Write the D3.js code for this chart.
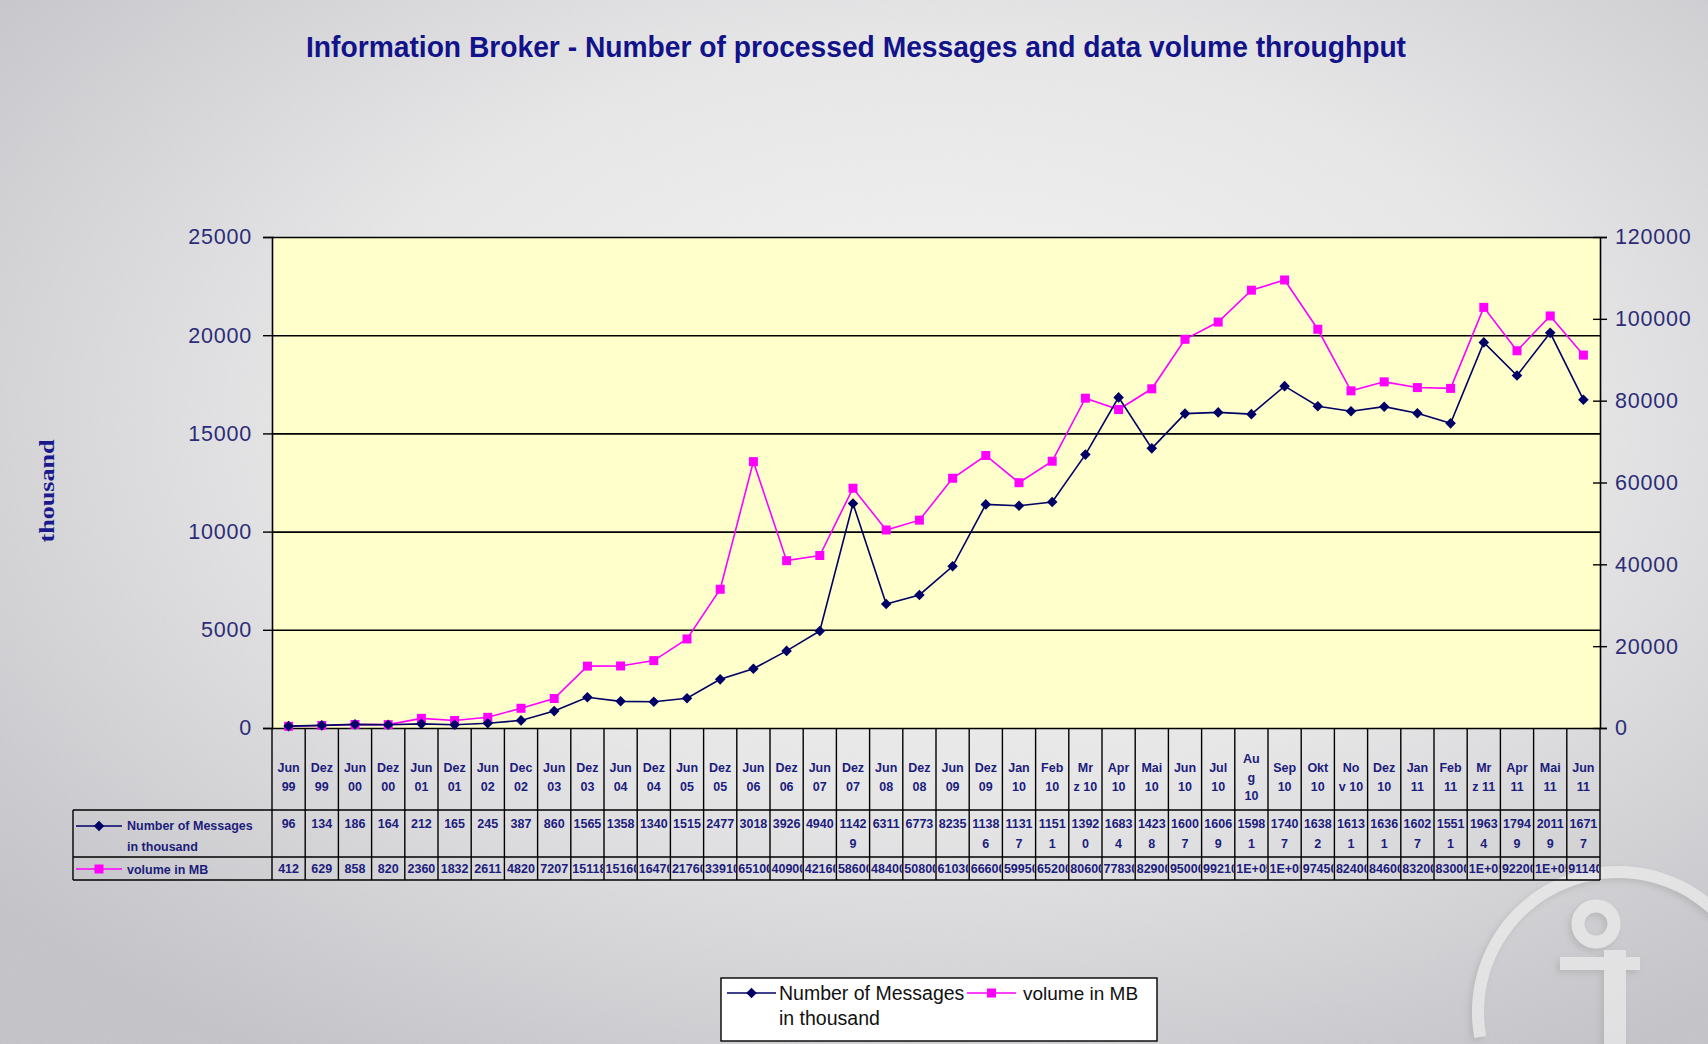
<!DOCTYPE html>
<html>
<head>
<meta charset="utf-8">
<script src="https://cdn.jsdelivr.net/npm/d3@7"></script>
<style>
  html, body { margin: 0; padding: 0; overflow: hidden; background: #e4e4e6; }
  text { font-family: Arial, 'Liberation Sans', sans-serif; }
</style>
</head>
<body>
<div class="graphique"></div>
<script>
var periods = ['Jun\n99', 'Dez\n99', 'Jun\n00', 'Dez\n00', 'Jun\n01', 'Dez\n01', 'Jun\n02', 'Dec\n02',
  'Jun\n03', 'Dez\n03', 'Jun\n04', 'Dez\n04', 'Jun\n05', 'Dez\n05', 'Jun\n06', 'Dez\n06',
  'Jun\n07', 'Dez\n07', 'Jun\n08', 'Dez\n08', 'Jun\n09', 'Dez\n09', 'Jan\n10', 'Feb\n10',
  'Mr\nz 10', 'Apr\n10', 'Mai\n10', 'Jun\n10', 'Jul\n10', 'Au\ng\n10', 'Sep\n10', 'Okt\n10',
  'No\nv 10', 'Dez\n10', 'Jan\n11', 'Feb\n11', 'Mr\nz 11', 'Apr\n11', 'Mai\n11', 'Jun\n11']

var messages = [96, 134, 186, 164, 212, 165, 245, 387, 860, 1565,
  1358, 1340, 1515, 2477, 3018, 3926, 4940, 11429, 6311, 6773,
  8235, 11386, 11317, 11511, 13920, 16834, 14238, 16007, 16069, 15981,
  17407, 16382, 16131, 16361, 16027, 15511, 19634, 17949, 20119, 16717]

var volume = [412, 629, 858, 820, 2360, 1832, 2611, 4820, 7207, 15118,
  15160, 16470, 21760, 33910, 65100, 40900, 42160, 58600, 48400, 50800,
  61030, 66600, 59950, 65200, 80600, 77830, 82900, 95000, 99210, 107000,
  109500, 97450, 82400, 84600, 83200, 83000, 102800, 92200, 100700, 91140]

var leftTicks = [0, 5000, 10000, 15000, 20000, 25000]
var rightTicks = [0, 20000, 40000, 60000, 80000, 100000, 120000]
var seriesNames = ['Number of Messages\nin thousand', 'volume in MB']
var chartTitle = 'Information Broker - Number of processed Messages and data volume throughput'
var axisTitle = 'thousand'

;(function () {
  var W = 1708
  var H = 1044
  var NAVY = '#000066'
  var PINK = '#ff00ff'
  var LABEL = '#2c2c78'
  var CELL = '#1c1c7c'

  var svg = d3.select('.graphique').append('svg')
    .attr('width', W)
    .attr('height', H)

  var defs = svg.append('defs')
  var bg = defs.append('radialGradient').attr('id', 'fond')
    .attr('cx', '0.55').attr('cy', '0.4').attr('r', '0.72')
  bg.append('stop').attr('offset', '0').attr('stop-color', '#f6f6f6')
  bg.append('stop').attr('offset', '0.5').attr('stop-color', '#e8e8e9')
  bg.append('stop').attr('offset', '1').attr('stop-color', '#c4c4c9')

  var grain = defs.append('filter').attr('id', 'grain')
  grain.append('feTurbulence').attr('type', 'fractalNoise').attr('baseFrequency', 0.85).attr('numOctaves', 2)
  grain.append('feColorMatrix').attr('type', 'saturate').attr('values', 0)

  var ombre = defs.append('filter').attr('id', 'ombre').attr('x', '-20%').attr('y', '-20%').attr('width', '140%').attr('height', '140%')
  ombre.append('feDropShadow').attr('dx', -3).attr('dy', 3).attr('stdDeviation', 3)
    .attr('flood-color', '#9a9a9a').attr('flood-opacity', 0.55)

  svg.append('rect').attr('width', W).attr('height', H).attr('fill', 'url(#fond)')
  svg.append('rect').attr('width', W).attr('height', H).attr('filter', 'url(#grain)').attr('opacity', 0.07)

  drawLogo()

  var plot = { left: 272, right: 1600, top: 237, bottom: 728 }

  var x = d3.scaleBand()
    .domain(d3.range(periods.length))
    .range([plot.left, plot.right])
  var yLeft = d3.scaleLinear().domain([0, 25000]).range([plot.bottom, plot.top])
  var yRight = d3.scaleLinear().domain([0, 120000]).range([plot.bottom, plot.top])
  var cx = function (i) { return x(i) + x.bandwidth() / 2 }

  // Title
  svg.append('text')
    .attr('x', 856)
    .attr('y', 57)
    .attr('text-anchor', 'middle')
    .attr('textLength', 1100)
    .attr('lengthAdjust', 'spacingAndGlyphs')
    .style('font-size', '29px')
    .style('font-weight', 'bold')
    .attr('fill', '#12128a')
    .text(chartTitle)

  // Plot area
  svg.append('rect')
    .attr('x', plot.left).attr('y', plot.top)
    .attr('width', plot.right - plot.left).attr('height', plot.bottom - plot.top)
    .attr('fill', '#ffffcc')

  // Gridlines
  svg.append('g')
    .attr('transform', 'translate(' + plot.left + ',0)')
    .call(d3.axisLeft(yLeft).tickValues(leftTicks).tickSize(-(plot.right - plot.left)).tickFormat(''))
    .call(function (g) {
      g.select('.domain').remove()
      g.selectAll('.tick line').attr('stroke', '#000').attr('stroke-width', 1.6)
    })

  // Left axis
  svg.append('g')
    .attr('transform', 'translate(' + plot.left + ',0)')
    .call(d3.axisLeft(yLeft).tickValues(leftTicks).tickSize(9).tickPadding(11).tickFormat(d3.format('d')))
    .call(function (g) {
      g.select('.domain').attr('stroke', '#000').attr('stroke-width', 1.6)
      g.selectAll('.tick line').attr('stroke', '#000').attr('stroke-width', 1.4)
      g.selectAll('.tick text').attr('fill', LABEL)
        .style('font-size', '21.5px').style('letter-spacing', '0.8px').style('font-family', 'Arial, sans-serif')
    })

  // Right axis
  svg.append('g')
    .attr('transform', 'translate(' + plot.right + ',0)')
    .call(d3.axisRight(yRight).tickValues(rightTicks).tickSize(7).tickPadding(8).tickFormat(d3.format('d')))
    .call(function (g) {
      g.select('.domain').attr('stroke', '#000').attr('stroke-width', 1.6)
      g.selectAll('.tick line').attr('x1', -7).attr('stroke', '#000').attr('stroke-width', 1.4)
      g.selectAll('.tick text').attr('fill', LABEL)
        .style('font-size', '21.5px').style('letter-spacing', '0.8px').style('font-family', 'Arial, sans-serif')
    })

  // Y axis title
  svg.append('text')
    .attr('transform', 'translate(54,491) rotate(-90)')
    .attr('text-anchor', 'middle')
    .attr('textLength', 103)
    .attr('lengthAdjust', 'spacingAndGlyphs')
    .style('font-family', "'Liberation Serif', 'Times New Roman', serif")
    .style('font-size', '22px')
    .style('font-weight', 'bold')
    .attr('fill', '#1a1a8c')
    .text(axisTitle)

  // Series
  var lineMsg = d3.line().x(function (d, i) { return cx(i) }).y(function (d) { return yLeft(d) })
  var lineVol = d3.line().x(function (d, i) { return cx(i) }).y(function (d) { return yRight(d) })

  svg.append('path').datum(volume)
    .attr('d', lineVol).attr('fill', 'none').attr('stroke', PINK).attr('stroke-width', 1.6)
  svg.append('path').datum(messages)
    .attr('d', lineMsg).attr('fill', 'none').attr('stroke', NAVY).attr('stroke-width', 1.6)

  svg.append('g').selectAll('rect').data(volume).join('rect')
    .attr('x', function (d, i) { return cx(i) - 4.5 })
    .attr('y', function (d) { return yRight(d) - 4.5 })
    .attr('width', 9).attr('height', 9)
    .attr('fill', PINK)

  svg.append('g').selectAll('path').data(messages).join('path')
    .attr('d', d3.symbol(d3.symbolSquare, 56))
    .attr('transform', function (d, i) { return 'translate(' + cx(i) + ',' + yLeft(d) + ') rotate(45)' })
    .attr('fill', NAVY)

  drawTable()
  drawLegend()

  function drawTable () {
    var top = 810
    var mid = 857
    var bottom = 880
    var keyLeft = 73
    var step = x.step()
    var g = svg.append('g')

    // Category header
    periods.forEach(function (p, i) {
      var lines = p.split('\n')
      var t = g.append('text')
        .attr('x', cx(i))
        .attr('text-anchor', 'middle')
        .style('font-size', '12.5px')
        .style('font-weight', 'bold')
        .attr('fill', CELL)
      lines.forEach(function (l, k) {
        t.append('tspan')
          .attr('x', cx(i))
          .attr('y', 777 + (k - (lines.length - 1) / 2) * 18.5 + 4.5)
          .text(l)
      })
    })

    // Values
    var clip = defs.selectAll('clipPath.cell').data(periods).join('clipPath')
      .attr('class', 'cell')
      .attr('id', function (d, i) { return 'cell' + i })
    clip.append('rect')
      .attr('x', function (d, i) { return x(i) + 1 })
      .attr('y', top)
      .attr('width', step - 2)
      .attr('height', bottom - top)

    messages.forEach(function (v, i) {
      var s = String(v)
      var lines = s.length > 4 ? [s.slice(0, 4), s.slice(4)] : [s]
      lines.forEach(function (l, k) {
        cellText(i, l, 828 + k * 20)
      })
    })

    volume.forEach(function (v, i) {
      var s = v >= 100000 ? '1E+05' : String(v)
      cellText(i, s, 873)
    })

    function cellText (i, s, y) {
      var t = g.append('text')
        .attr('clip-path', 'url(#cell' + i + ')')
        .attr('y', y)
        .style('font-size', '12.5px')
        .style('font-weight', 'bold')
        .attr('fill', CELL)
        .text(s)
      var w = t.node().getComputedTextLength()
      if (w > step - 4) {
        t.attr('x', x(i) + 1.5)
      } else {
        t.attr('x', cx(i)).attr('text-anchor', 'middle')
      }
    }

    // Grid
    var grid = g.append('g').attr('stroke', '#000').attr('stroke-width', 1.4)
    d3.range(periods.length + 1).forEach(function (k) {
      grid.append('line')
        .attr('x1', plot.left + k * step).attr('x2', plot.left + k * step)
        .attr('y1', plot.bottom).attr('y2', bottom)
    })
    ;[top, mid, bottom].forEach(function (y) {
      grid.append('line').attr('x1', keyLeft).attr('x2', plot.right).attr('y1', y).attr('y2', y)
    })
    grid.append('line').attr('x1', keyLeft).attr('x2', keyLeft).attr('y1', top).attr('y2', bottom)

    // Key column
    legendKey(g, 76, 122, 826, 'msg')
    seriesNames[0].split('\n').forEach(function (l, k) {
      g.append('text')
        .attr('x', 127).attr('y', 830 + k * 21)
        .style('font-size', '12.5px')
        .style('font-weight', 'bold')
        .attr('fill', CELL)
        .text(l)
    })
    legendKey(g, 76, 122, 869, 'vol')
    g.append('text')
      .attr('x', 127).attr('y', 874)
      .style('font-size', '12.5px')
      .style('font-weight', 'bold')
      .attr('fill', CELL)
      .text(seriesNames[1])
  }

  function legendKey (g, x1, x2, y, type) {
    var m = (x1 + x2) / 2
    g.append('line')
      .attr('x1', x1).attr('x2', x2).attr('y1', y).attr('y2', y)
      .attr('stroke', type === 'msg' ? NAVY : PINK).attr('stroke-width', 1.6)
    if (type === 'msg') {
      g.append('path')
        .attr('d', d3.symbol(d3.symbolSquare, 56))
        .attr('transform', 'translate(' + m + ',' + y + ') rotate(45)')
        .attr('fill', NAVY)
    } else {
      g.append('rect')
        .attr('x', m - 4.5).attr('y', y - 4.5)
        .attr('width', 9).attr('height', 9)
        .attr('fill', PINK)
    }
  }

  function drawLegend () {
    var g = svg.append('g')
    g.append('rect')
      .attr('x', 721).attr('y', 978)
      .attr('width', 436).attr('height', 63)
      .attr('fill', '#fff')
      .attr('stroke', '#000')
      .attr('stroke-width', 1.4)

    legendKey(g, 727, 776, 993, 'msg')
    seriesNames[0].split('\n').forEach(function (l, k) {
      g.append('text')
        .attr('x', 779).attr('y', 1000 + k * 25)
        .style('font-size', '19.5px')
        .attr('fill', '#111')
        .text(l)
    })
    legendKey(g, 967, 1016, 993, 'vol')
    g.append('text')
      .attr('x', 1023).attr('y', 1000)
      .style('font-size', '19px')
      .attr('fill', '#111')
      .text(seriesNames[1])
  }

  function drawLogo () {
    var g = svg.append('g')
      .attr('transform', 'translate(1618,1012)')
      .attr('filter', 'url(#ombre)')
      .attr('opacity', 0.7)
    var fill = '#ededed'
    g.append('path')
      .attr('d', d3.arc()({ innerRadius: 134, outerRadius: 146, startAngle: -1.75, endAngle: 2.4 }))
      .attr('fill', fill)
    g.append('circle')
      .attr('cx', -22).attr('cy', -88).attr('r', 18)
      .attr('fill', 'none').attr('stroke', fill).attr('stroke-width', 13)
    g.append('rect').attr('x', -58).attr('y', -55).attr('width', 80).attr('height', 13).attr('fill', fill)
    g.append('rect').attr('x', -14).attr('y', -62).attr('width', 22).attr('height', 95).attr('fill', fill)
  }
})()
</script>
</body>
</html>
